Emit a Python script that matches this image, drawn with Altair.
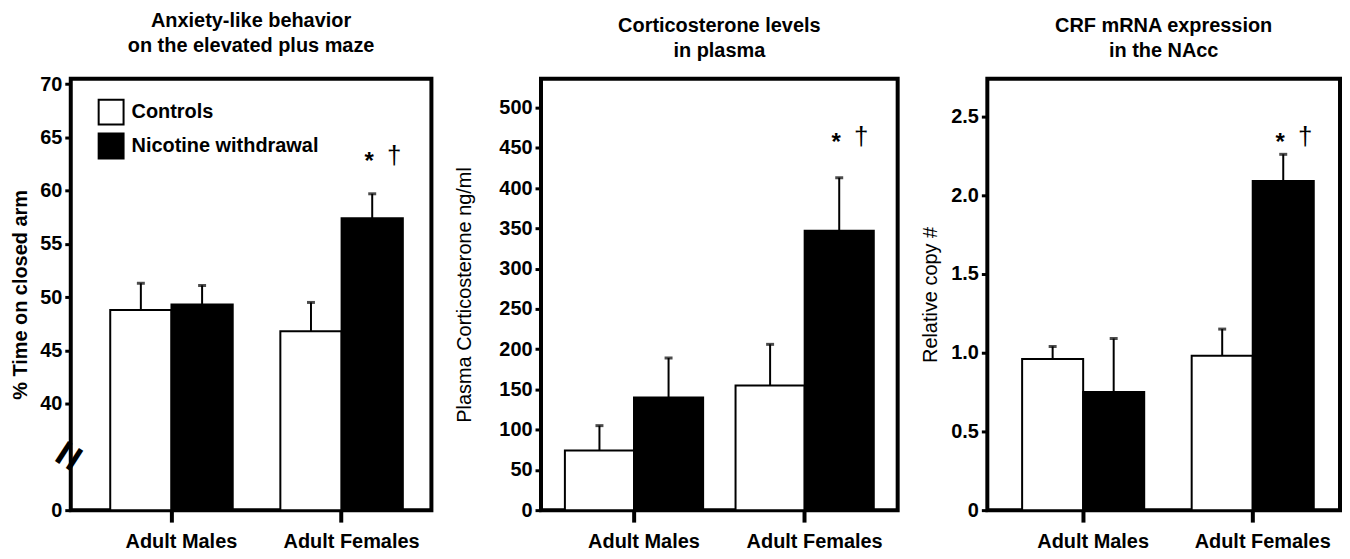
import altair as alt
import pandas as pd

FONT = "Liberation Sans"

groups = ["Adult Males", "Adult Females"]
conditions = ["Controls", "Nicotine withdrawal"]
bar_group = ["Adult Males", "Adult Males", "Adult Females", "Adult Females"]
bar_condition = ["Controls", "Nicotine withdrawal", "Controls", "Nicotine withdrawal"]

# Panel 1: % time on closed arm (axis broken between 0 and 40; the break base is shown as 0)
epm_mean = [48.8, 49.3, 46.8, 57.4]
epm_sem = [2.5, 1.8, 2.7, 2.3]
epm_base = 30
epm_ticks = [30, 40, 45, 50, 55, 60, 65, 70]
epm_break = [35]

# Panel 2: plasma corticosterone ng/ml
cort_mean = [74, 140, 155, 347]
cort_sem = [31, 49, 51, 66]
cort_ticks = [0, 50, 100, 150, 200, 250, 300, 350, 400, 450, 500]

# Panel 3: CRF mRNA relative copy #
crf_mean = [0.96, 0.75, 0.98, 2.09]
crf_sem = [0.08, 0.34, 0.17, 0.17]
crf_ticks = [0, 0.5, 1.0, 1.5, 2.0, 2.5]

# significance marks (* vs controls, † vs males) above adult female withdrawal bar
sig_group = ["Adult Females"]
sig_condition = ["Nicotine withdrawal"]
sig_y = [63.2, 464, 2.37]

PLOT_H = 433


def panel(mean, sem, base, domain, ticks, label_expr, ytitle, ytitle_weight,
          ytitle_pad, title_lines, width, pin, pout, palign, sig_val,
          legend=None, break_at=None):
    df = pd.DataFrame({
        "group": bar_group,
        "condition": bar_condition,
        "mean": mean,
        "top": [m + s for m, s in zip(mean, sem)],
        "base": [base] * len(mean),
    })
    sig = pd.DataFrame({"group": sig_group, "condition": sig_condition, "y": [sig_val]})

    xaxis = alt.Axis(title=None, labelAngle=0, domain=False, ticks=True, tickSize=12,
                     tickWidth=4, tickColor="black", labelFontSize=20,
                     labelFontWeight="bold", labelFont=FONT, labelColor="black",
                     labelPadding=9, labelOffset=10, grid=False)
    x = alt.X("group:N", sort=groups, axis=xaxis,
              scale=alt.Scale(paddingInner=pin, paddingOuter=pout, align=palign))
    xo = alt.XOffset("condition:N", sort=conditions,
                     scale=alt.Scale(domain=conditions, paddingInner=0, paddingOuter=0))
    yscale = alt.Scale(domain=domain, nice=False, zero=False)
    yaxis = alt.Axis(values=ticks, labelExpr=label_expr, title=ytitle, titleFontSize=20,
                     titleFont=FONT, titleFontWeight=ytitle_weight, titleColor="black",
                     titlePadding=ytitle_pad, labelFontSize=20, labelFontWeight="bold",
                     labelFont=FONT, labelColor="black", labelPadding=3, tickSize=6,
                     tickWidth=3, tickColor="black", domain=False, grid=False)

    def Y(field):
        return alt.Y(field, scale=yscale, axis=yaxis)

    fill = alt.Fill("condition:N", sort=conditions,
                    scale=alt.Scale(domain=conditions, range=["white", "black"]),
                    legend=legend)

    bars = alt.Chart(df).mark_bar(stroke="black", strokeWidth=2).encode(
        x=x, xOffset=xo, y=Y("mean:Q"), y2="base:Q", fill=fill)
    err = alt.Chart(df).mark_rule(color="black", strokeWidth=2).encode(
        x=x, xOffset=xo, y=Y("mean:Q"), y2="top:Q")
    cap = alt.Chart(df).mark_tick(color="black", thickness=3, size=8,
                                  orient="horizontal").encode(
        x=x, xOffset=xo, y=Y("top:Q"))
    star = alt.Chart(sig).mark_text(text="*", fontSize=24, fontWeight="bold", font=FONT,
                                    color="black", dx=-3, dy=6).encode(
        x=x, xOffset=xo, y=Y("y:Q"))
    dagger = alt.Chart(sig).mark_text(text="\u2020", fontSize=26, font=FONT,
                                      color="black", dx=22).encode(
        x=x, xOffset=xo, y=Y("y:Q"))
    layers = [bars, err, cap, star, dagger]
    if break_at is not None:
        brk = alt.Chart(pd.DataFrame({"y": break_at})).mark_text(
            text="=", angle=303, fontSize=48, fontWeight="bold", font=FONT,
            color="black").encode(x=alt.value(0), y=Y("y:Q"))
        layers.append(brk)

    return alt.layer(*layers).properties(
        width=width, height=PLOT_H,
        title=alt.TitleParams(title_lines, fontSize=20, fontWeight="bold", font=FONT,
                              color="black", anchor="middle", lineHeight=25,
                              offset=18))


leg = alt.Legend(orient="none", legendX=27, legendY=20, title=None, symbolType="square",
                 symbolSize=625, symbolStrokeColor="black", symbolStrokeWidth=2,
                 labelFontSize=20, labelFontWeight="bold", labelFont=FONT,
                 labelColor="black", rowPadding=1, labelOffset=7, padding=0,
                 labelLimit=400)

p1 = panel(epm_mean, epm_sem, epm_base, [epm_base, 70.5], epm_ticks,
           "datum.value == 30 ? '0' : datum.label", "% Time on closed arm", "bold", 9,
           ["Anxiety-like behavior", "on the elevated plus maze"], 362, 0.28, 0.2, 0.58,
           sig_y[0], legend=leg, break_at=epm_break)
p2 = panel(cort_mean, cort_sem, 0, [0, 536], cort_ticks, "datum.label",
           "Plasma Corticosterone  ng/ml", "normal", 24,
           ["Corticosterone levels", "in plasma"], 358, 0.19, 0.14, 0.5, sig_y[1])
p3 = panel(crf_mean, crf_sem, 0, [0, 2.74], crf_ticks,
           "datum.value == 0 ? '0' : format(datum.value, '.1f')", "Relative copy #",
           "normal", 10, ["CRF mRNA expression", "in the NAcc"], 354, 0.28, 0.18, 0.57,
           sig_y[2])

chart = alt.hconcat(p1, p2, p3, spacing=19).resolve_scale(
    fill="independent", y="independent", x="independent", xOffset="independent"
).properties(padding=0).configure(font=FONT, background="white").configure_view(
    stroke="black", strokeWidth=4)

chart.save("out.html", embed_options={"renderer": "svg", "actions": False})
